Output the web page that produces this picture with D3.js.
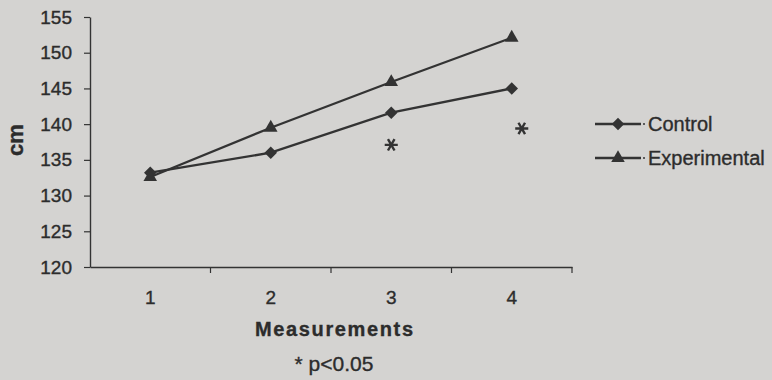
<!DOCTYPE html>
<html>
<head>
<meta charset="utf-8">
<script src="https://cdn.jsdelivr.net/npm/d3@7"></script>
<style>
  html, body { margin: 0; padding: 0; background: #d4d3d1; }
  svg { display: block; }
  text { font-family: "Liberation Sans", Arial, sans-serif; fill: #2c2c2c; stroke: #2c2c2c; stroke-width: 0.35px; }
</style>
</head>
<body>
<svg id="chart" width="772" height="380"></svg>
<script>
// Measurement occasions and mean height (cm) for each group
const measurements = ["1", "2", "3", "4"];
const controlValues = [133.2, 136.0, 141.6, 145.0];
const experimentalValues = [132.6, 139.5, 145.9, 152.1];
const yTicks = [120, 125, 130, 135, 140, 145, 150, 155];
// Measurements where the group difference was significant
const significantAt = ["3", "4"];
const significantMarkY = [137.1, 139.4];

const series = [
  { name: "Control", values: controlValues, symbol: "diamond" },
  { name: "Experimental", values: experimentalValues, symbol: "triangle" }
];

const ink = "#333333";
const svg = d3.select("#chart");

const x = d3.scaleBand().domain(measurements).range([90, 572]);
const y = d3.scaleLinear().domain([120, 155]).range([267, 17]);
const cx = d => x(d) + x.bandwidth() / 2;

// Y axis
const yAxis = svg.append("g")
  .attr("transform", "translate(90,0)")
  .call(d3.axisLeft(y).tickValues(yTicks).tickSize(6).tickSizeOuter(0).tickPadding(12));
yAxis.select(".domain").attr("stroke", ink).attr("stroke-width", 1.4);
yAxis.selectAll(".tick line").attr("stroke", ink).attr("stroke-width", 1.2);
yAxis.selectAll(".tick text")
  .attr("font-size", 19).attr("fill", "#2c2c2c")
  .style("font-family", "'Liberation Sans', Arial, sans-serif");

// X axis: labels centred in each band, tick marks on band edges
const xAxis = svg.append("g")
  .attr("transform", "translate(0,267)")
  .call(d3.axisBottom(x).tickSize(0).tickPadding(24).tickSizeOuter(0));
xAxis.select(".domain").attr("stroke", ink).attr("stroke-width", 1.4);
xAxis.selectAll(".tick text")
  .attr("font-size", 19).attr("fill", "#2c2c2c")
  .style("font-family", "'Liberation Sans', Arial, sans-serif");
svg.append("g").selectAll("line")
  .data(measurements.slice(1).concat(["end"]))
  .join("line")
  .attr("x1", d => d === "end" ? x.range()[1] : x(d))
  .attr("x2", d => d === "end" ? x.range()[1] : x(d))
  .attr("y1", 267).attr("y2", 273)
  .attr("stroke", ink).attr("stroke-width", 1.2);

// Axis titles
svg.append("text")
  .attr("transform", "translate(23,140) rotate(-90)")
  .attr("text-anchor", "middle")
  .attr("font-size", 22).attr("font-weight", "bold")
  .text("cm");
svg.append("text")
  .attr("x", 334).attr("y", 336)
  .attr("text-anchor", "middle")
  .attr("font-size", 20).attr("font-weight", "bold")
  .attr("textLength", 158).attr("lengthAdjust", "spacing")
  .text("Measurements");
svg.append("text")
  .attr("x", 334).attr("y", 371)
  .attr("text-anchor", "middle")
  .attr("font-size", 21)
  .text("* p<0.05");

// Series lines and markers
const line = d3.line().x((v, i) => cx(measurements[i])).y(v => y(v));
const symbolPath = s => s === "diamond"
  ? d3.symbol(d3.symbolSquare, 78)()
  : d3.symbol(d3.symbolTriangle, 80)();
const symbolRotate = s => s === "diamond" ? 45 : 0;

series.forEach(s => {
  svg.append("path")
    .datum(s.values)
    .attr("d", line)
    .attr("fill", "none")
    .attr("stroke", ink)
    .attr("stroke-width", 2.3);
  svg.append("g").selectAll("path")
    .data(s.values)
    .join("path")
    .attr("d", symbolPath(s.symbol))
    .attr("transform", (v, i) => `translate(${cx(measurements[i])},${y(v)}) rotate(${symbolRotate(s.symbol)})`)
    .attr("fill", ink);
});

// Significance asterisks
svg.append("g").selectAll("path")
  .data(significantAt)
  .join("path")
  .attr("d", d3.symbol(d3.symbolAsterisk, 120)())
  .attr("transform", (d, i) => `translate(${cx(d) + (i === 1 ? 10 : 0)},${y(significantMarkY[i])}) rotate(90)`)
  .attr("fill", "none")
  .attr("stroke", ink)
  .attr("stroke-width", 2.4);

// Legend
const legend = svg.append("g");
series.forEach((s, i) => {
  const ly = 124 + i * 34;
  legend.append("line")
    .attr("x1", 595).attr("x2", 641)
    .attr("y1", ly).attr("y2", ly)
    .attr("stroke", ink).attr("stroke-width", 2.3);
  legend.append("path")
    .attr("d", symbolPath(s.symbol))
    .attr("transform", `translate(618,${ly}) rotate(${symbolRotate(s.symbol)})`)
    .attr("fill", ink);
  legend.append("circle")
    .attr("cx", 644).attr("cy", ly).attr("r", 1)
    .attr("fill", ink);
  legend.append("text")
    .attr("x", 648).attr("y", ly + 7)
    .attr("font-size", 20)
    .text(s.name);
});
</script>
</body>
</html>
